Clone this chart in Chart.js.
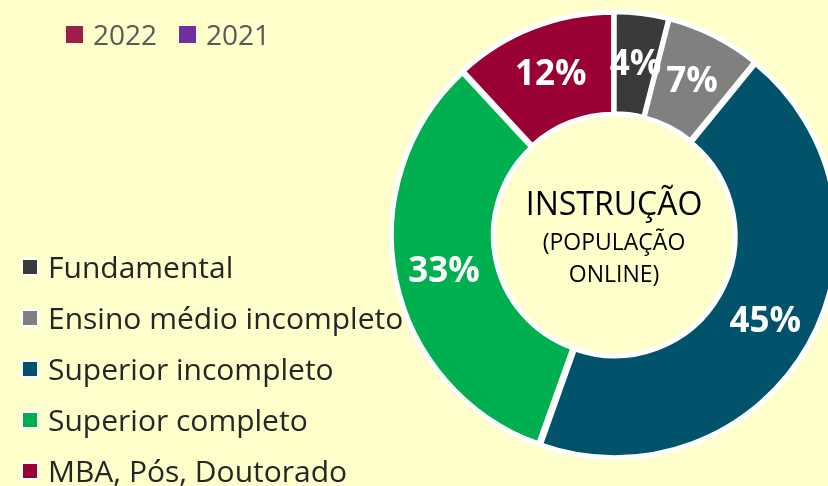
<!DOCTYPE html>
<html>
<head>
<meta charset="utf-8">
<script src="https://cdn.jsdelivr.net/npm/chart.js@4.4.1/dist/chart.umd.min.js"></script>
<style>
  html, body { margin: 0; padding: 0; background: #FFFFCC; }
  #wrap { position: relative; width: 828px; height: 486px; overflow: hidden; }
  canvas { position: absolute; left: 0; top: 0; }
  .legend { position: absolute; font-family: 'Open Sans', sans-serif; margin: 0; padding: 0; list-style: none; }
  .legend li { display: flex; align-items: center; white-space: nowrap; }
  .legend .box { display: inline-block; box-sizing: border-box; }
  #topLegend { left: 66px; top: 14px; display: flex; font-size: 28px; color: #595959; }
  #topLegend li { height: 40px; line-height: 40px; margin-right: 22px; }
  #topLegend .box { width: 17px; height: 17px; margin-right: 10px; }
  #sideLegend { left: 21px; top: 241px; font-size: 30px; color: #262626; }
  #sideLegend li { height: 51px; line-height: 51px; }
  #sideLegend .box { width: 18px; height: 18px; border: 2px solid #FFFFFF; margin-right: 9px; }
</style>
</head>
<body>
<div id="wrap">
  <!-- canvas is a bit wider than the page so the ring runs off the right edge -->
  <canvas id="chart" width="850" height="486"></canvas>
  <ul id="topLegend" class="legend"></ul>
  <ul id="sideLegend" class="legend"></ul>
</div>
<script>
// data
const categories = ['Fundamental', 'Ensino médio incompleto', 'Superior incompleto', 'Superior completo', 'MBA, Pós, Doutorado'];
const shares = [4, 7, 45, 33, 12];
const sliceColors = ['#3A3A3A', '#808080', '#00536A', '#00B050', '#990033'];
const yearLabels = ['2022', '2021'];
const yearColors = ['#9B1F4A', '#7030A0'];
const centerTitle = 'INSTRUÇÃO';
const centerSub = ['(POPULAÇÃO', 'ONLINE)'];

const FONT = "'Open Sans', sans-serif";

function addItem(list, color, text) {
    const li = document.createElement('li');
    const b = document.createElement('span');
    b.className = 'box';
    b.style.background = color;
    const t = document.createElement('span');
    t.textContent = text;
    li.appendChild(b);
    li.appendChild(t);
    list.appendChild(li);
}

// leftover year legend at the top
const topLegend = document.getElementById('topLegend');
yearLabels.forEach((y, i) => addItem(topLegend, yearColors[i], y));

// percent labels on the slices + text in the hole
const labelPlugin = {
    id: 'sliceLabels',
    afterDatasetsDraw(chart) {
        const ctx = chart.ctx;
        const meta = chart.getDatasetMeta(0);
        ctx.save();
        ctx.fillStyle = '#FFFFFF';
        ctx.font = 'bold 35px ' + FONT;
        ctx.textAlign = 'center';
        ctx.textBaseline = 'alphabetic';
        meta.data.forEach((arc, i) => {
            const p = arc.getProps(['x', 'y', 'startAngle', 'endAngle', 'innerRadius', 'outerRadius'], true);
            const mid = (p.startAngle + p.endAngle) / 2;
            const r = p.innerRadius + (p.outerRadius - p.innerRadius) * 0.53;
            ctx.fillText(shares[i] + '%', p.x + Math.cos(mid) * r, p.y + Math.sin(mid) * r + 12);
        });

        const a0 = meta.data[0];
        ctx.fillStyle = '#000000';
        ctx.font = '32px ' + FONT;
        ctx.fillText(centerTitle, a0.x, a0.y - 20);
        ctx.font = '23px ' + FONT;
        ctx.fillText(centerSub[0], a0.x, a0.y + 15);
        ctx.fillText(centerSub[1], a0.x, a0.y + 47);
        ctx.restore();
    }
};

const chart = new Chart(document.getElementById('chart'), {
    type: 'doughnut',
    data: {
        labels: categories,
        datasets: [{
            data: shares,
            backgroundColor: sliceColors,
            borderColor: '#FFFFFF',
            borderWidth: 5,
            offset: 4
        }]
    },
    options: {
        responsive: false,
        animation: false,
        cutout: '54%',
        layout: { padding: { left: 378, top: 9, bottom: 25, right: 0 } },
        plugins: {
            tooltip: { enabled: false },
            legend: { display: false }
        }
    },
    plugins: [labelPlugin]
});

// category legend on the left, built from the chart's own legend items
const sideLegend = document.getElementById('sideLegend');
chart.options.plugins.legend.labels.generateLabels(chart).forEach(item => {
    addItem(sideLegend, item.fillStyle, item.text);
});
</script>
</body>
</html>
